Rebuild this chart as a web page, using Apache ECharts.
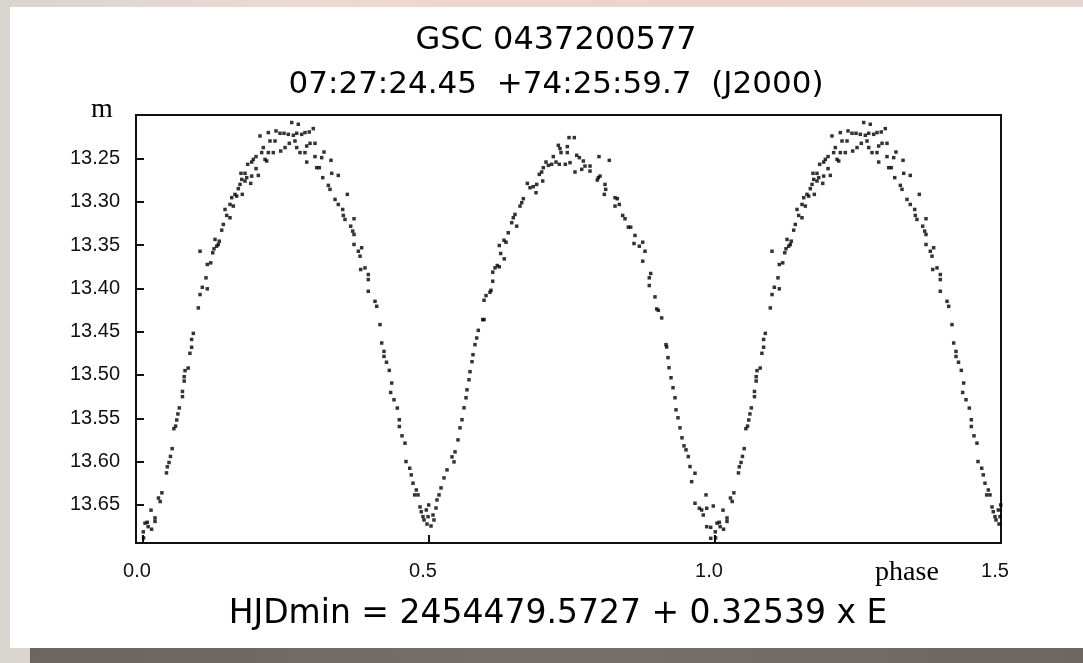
<!DOCTYPE html>
<html>
<head>
<meta charset="utf-8">
<script src="https://cdn.jsdelivr.net/npm/echarts@6/dist/echarts.min.js"></script>
<style>
html,body{margin:0;padding:0;width:1083px;height:663px;overflow:hidden;}
#bg{position:absolute;left:0;top:0;width:1083px;height:663px;background:linear-gradient(90deg,#d8d5cf 0%,#ecd9d1 25%,#efd4ca 55%,#e7d6cf 100%);}
#panel{position:absolute;left:10px;top:7px;width:1073px;height:641px;background:#ffffff;}
#strip{position:absolute;left:30px;top:648px;width:1053px;height:15px;background:linear-gradient(90deg,#6a6560,#75706b 50%,#6c6762);}
#chart{position:absolute;left:0;top:0;width:1083px;height:663px;}
</style>
</head>
<body>
<div id="bg"></div><div id="panel"></div><div id="strip"></div>
<div id="chart"></div>
<script>
// ---- data (one cycle, phase 0..1; the plot repeats 0..0.5 at 1..1.5) ----
const titleMain = "GSC 0437200577";
const titleCoords = "07:27:24.45  +74:25:59.7  (J2000)";
const footerText = "HJDmin = 2454479.5727 + 0.32539 x E";
const xTickStep = 0.5;      // x labels 0.0, 0.5, 1.0, 1.5
const yTickStep = 0.05;     // y labels 13.25 ... 13.65
const yLabelMin = 13.25, yLabelMax = 13.65;

const phaseValues = [
0.0005,0.001,0.0035,0.0075,0.009,0.014,0.015,0.021,0.021,0.027,0.030,0.033,0.041,0.0425,0.0455,0.048,0.051,0.054,0.057,0.059,0.061,0.0635,0.069,0.069,0.072,0.072,0.0735,0.079,0.082,0.085,0.085,0.088,
0.0967,0.0997,0.1037,0.1124,0.1101,0.0997,0.1124,0.1184,0.1219,0.1241,0.1259,0.1288,0.1316,0.1334,0.1376,0.1404,0.1463,0.1521,0.1434,0.1521,0.1579,0.1551,0.1608,0.1638,0.1736,0.1666,0.1696,0.1726,0.1783,0.1883,0.1713,0.1783,0.1813,0.1900,0.2016,0.1830,0.1900,0.1928,0.1976,0.1976,
0.2075,0.2133,0.2163,0.2191,0.2278,0.2103,0.2220,0.2308,0.2407,0.2483,0.2045,0.2191,0.2325,0.2395,0.2465,0.2540,0.2600,0.2715,0.2628,0.2558,0.2657,0.2687,0.2774,0.2832,0.2907,0.2977,0.2687,0.2745,0.2832,0.2862,0.2920,0.3007,0.2862,0.3007,0.3037,0.3082,0.3124,0.3164,0.3142,0.3287,0.3299,0.3414,0.3240,0.3269,0.3357,0.3414,0.3572,0.3491,0.3502,0.3531,0.3689,0.3631,0.3666,0.3689,0.3689,0.3764,0.3794,0.3823,0.3806,0.3881,0.3939,0.3939,0.3939,0.4056,0.4086,
0.4143,0.4173,0.4213,0.4213,0.4257,0.4306,0.4348,0.4330,0.4388,0.4446,0.4481,0.4481,0.4528,0.4580,0.4598,0.4663,0.4690,0.4720,0.4750,0.4778,0.4808,0.4843,0.4865,0.4895,0.4913,0.4953,0.4965,0.4983,0.4995,
0.5035,0.5070,0.5087,0.5122,0.5140,0.5175,0.5210,0.5262,0.5315,0.5402,0.5437,0.5455,0.5507,0.5542,0.5577,0.5612,0.5647,0.5664,0.5699,0.5717,0.5752,0.5769,0.5804,
0.5834,0.5862,0.5939,0.5962,0.5962,0.5997,0.6066,0.6084,0.6114,0.6114,0.6154,0.6194,0.6229,0.6229,0.6253,0.6316,0.6311,0.6346,0.6386,0.6446,0.6474,0.6503,0.6533,0.6591,0.6621,0.6649,0.6719,0.6766,0.6823,0.6871,0.6883,0.6988,0.6928,0.6970,0.6998,0.7045,0.7086,0.7145,0.7173,0.7220,0.7278,0.7261,0.7290,0.7308,0.7418,0.7418,0.7383,0.7465,0.7448,0.7540,
0.7552,0.7582,0.7628,0.7670,0.7698,0.7727,0.7815,0.7815,0.7972,0.8152,0.7960,0.7942,0.7990,0.8077,0.8089,0.8065,0.8252,0.8292,0.8252,0.8327,0.8386,0.8427,0.8484,0.8526,0.8601,0.8584,0.8677,0.8736,0.8776,0.8736,0.8876,0.8851,0.8851,0.8951,0.8981,0.9009,0.9068,0.9143,0.9155,
0.9178,0.9196,0.9231,0.9266,0.9301,0.9318,0.9353,0.9388,0.9423,0.9458,0.9493,
0.9533,0.9563,0.9650,0.9592,0.9843,0.9650,0.9726,0.9767,0.9795,0.9855,0.9970,0.9855,0.9925,0.9925
];
const magValues = [
13.681,13.688,13.671,13.670,13.675,13.656,13.678,13.665,13.669,13.642,13.646,13.636,13.613,13.606,13.601,13.594,13.585,13.562,13.559,13.552,13.545,13.538,13.525,13.519,13.507,13.502,13.495,13.492,13.475,13.468,13.459,13.452,
13.4226,13.4072,13.3988,13.4006,13.3879,13.3572,13.3725,13.3706,13.3590,13.3544,13.3436,13.3514,13.3494,13.3456,13.3329,13.3263,13.3159,13.3186,13.3090,13.3032,13.3051,13.2954,13.2916,13.2936,13.2916,13.2850,13.2801,13.2743,13.2762,13.2789,13.2673,13.2673,13.2723,13.2705,13.2697,13.2569,13.2543,13.2512,13.2480,13.2619,
13.2434,13.2512,13.2531,13.2434,13.2434,13.2376,13.2300,13.2300,13.2416,13.2376,13.2242,13.2203,13.2184,13.2211,13.2211,13.2223,13.2087,13.2107,13.2234,13.2327,13.2300,13.2211,13.2223,13.2203,13.2196,13.2157,13.2376,13.2434,13.2434,13.2358,13.2327,13.2327,13.2543,13.2480,13.2608,13.2608,13.2492,13.2427,13.2723,13.2523,13.2673,13.2697,13.2812,13.2858,13.2974,13.3032,13.2916,13.3090,13.3159,13.3205,13.3197,13.3283,13.3340,13.3379,13.3494,13.3572,13.3629,13.3532,13.3783,13.3764,13.3841,13.3899,13.4034,13.4150,13.4208,
13.4419,13.4631,13.4728,13.4786,13.4853,13.4947,13.5093,13.5202,13.5286,13.5382,13.5517,13.5595,13.5702,13.5787,13.5999,13.6076,13.6153,13.6249,13.6384,13.6327,13.6384,13.6523,13.6578,13.6635,13.6673,13.6558,13.6720,13.6635,13.6500,
13.6743,13.6616,13.6673,13.6535,13.6442,13.6384,13.6303,13.6188,13.6095,13.5945,13.6003,13.5887,13.5749,13.5610,13.5517,13.5379,13.5263,13.5171,13.5055,13.4962,13.4847,13.4766,13.4650,
13.4573,13.4485,13.4361,13.4361,13.4138,13.4084,13.4046,13.4023,13.3918,13.3814,13.3764,13.3737,13.3752,13.3506,13.3598,13.3660,13.3445,13.3468,13.3359,13.3243,13.3186,13.3147,13.3283,13.3051,13.3012,13.2966,13.2789,13.2839,13.2827,13.2897,13.2801,13.2762,13.2685,13.2658,13.2608,13.2543,13.2581,13.2569,13.2480,13.2543,13.2569,13.2350,13.2388,13.2434,13.2365,13.2434,13.2569,13.2550,13.2261,13.2261,
13.2658,13.2465,13.2492,13.2627,13.2531,13.2589,13.2589,13.2647,13.2480,13.2523,13.2723,13.2751,13.2705,13.2801,13.2858,13.2916,13.2954,13.2966,13.3051,13.3032,13.3159,13.3197,13.3294,13.3294,13.3390,13.3483,13.3514,13.3468,13.3572,13.3687,13.3829,13.3879,13.3968,13.4099,13.4238,13.4254,13.4342,13.4650,13.4677,
13.480,13.4916,13.5032,13.5147,13.5263,13.5402,13.5494,13.5610,13.5725,13.5818,13.5864,
13.5942,13.6057,13.6134,13.6231,13.6384,13.6480,13.6538,13.6558,13.6616,13.6538,13.6512,13.6751,13.6758,13.6885
];

// build plotted points: full cycle plus repeat of first half cycle
const points = [];
for (let i = 0; i < phaseValues.length; i++) {
  points.push([phaseValues[i], magValues[i]]);
  if (phaseValues[i] < 0.5) points.push([phaseValues[i] + 1, magValues[i]]);
}

const chart = echarts.init(document.getElementById('chart'), null, {renderer: 'canvas'});
const labelFont = "'Liberation Sans', Arial, sans-serif";
const titleFont = "'DejaVu Sans', Verdana, sans-serif";
const serifFont = "'Liberation Serif', 'Times New Roman', serif";
const ink = '#111';

chart.setOption({
  backgroundColor: 'transparent',
  animation: false,
  grid: [
    {left: 136, top: 115, width: 865, height: 428, show: true, borderColor: ink, borderWidth: 2, backgroundColor: 'transparent'},
    // tick/label grid for phase axis: starts at phase 0 (7px right of the frame)
    {left: 143, top: 115, width: 858, height: 428, show: false}
  ],
  xAxis: [
    {type: 'value', gridIndex: 0, min: -0.01224, max: 1.5,
      axisLine: {show: false, onZero: false}, axisTick: {show: false}, axisLabel: {show: false}, splitLine: {show: false}},
    {type: 'value', gridIndex: 1, min: 0, max: 1.5, interval: xTickStep,
      axisLine: {show: false, onZero: false}, splitLine: {show: false},
      axisTick: {show: true, inside: true, length: 8, lineStyle: {color: ink, width: 2}},
      axisLabel: {show: true, formatter: v => Number(v).toFixed(1), showMinLabel: true, showMaxLabel: true,
        fontFamily: labelFont, fontSize: 20, color: ink, margin: 18, padding: [0, 12, 0, 0]}}
  ],
  yAxis: [
    {type: 'value', gridIndex: 0, inverse: true, min: 13.2, max: 13.6939, interval: yTickStep,
      axisLine: {show: true, onZero: false, lineStyle: {color: ink, width: 2}},
      splitLine: {show: false},
      axisTick: {show: true, inside: true, length: 8, lineStyle: {color: ink, width: 2}},
      axisLabel: {show: true, showMinLabel: false, showMaxLabel: false,
        formatter: v => (v >= yLabelMin - 1e-6 && v <= yLabelMax + 1e-6) ? Number(v).toFixed(2) : '',
        fontFamily: labelFont, fontSize: 20, color: ink, margin: 16}},
    {type: 'value', gridIndex: 1, show: false, min: 0, max: 1}
  ],
  graphic: [
    {type: 'text', style: {x: 556, y: 41, text: titleMain, font: "32px " + titleFont, fill: '#000', align: 'center', verticalAlign: 'middle'}},
    {type: 'text', style: {x: 556, y: 85, text: titleCoords, font: "31px " + titleFont, fill: '#000', align: 'center', verticalAlign: 'middle'}},
    {type: 'text', style: {x: 558, y: 614, text: footerText, font: "33px " + titleFont, fill: '#000', align: 'center', verticalAlign: 'middle'}},
    {type: 'text', style: {x: 102, y: 110, text: 'm', font: "28px " + serifFont, fill: '#000', align: 'center', verticalAlign: 'middle'}},
    {type: 'text', style: {x: 907, y: 573, text: 'phase', font: "28px " + serifFont, fill: '#000', align: 'center', verticalAlign: 'middle'}}
  ],
  series: [{
    type: 'scatter',
    xAxisIndex: 0, yAxisIndex: 0,
    data: points,
    symbol: 'rect',
    symbolSize: 3.5,
    itemStyle: {color: '#000'},
    silent: true,
    large: false
  }]
});
</script>
</body>
</html>
